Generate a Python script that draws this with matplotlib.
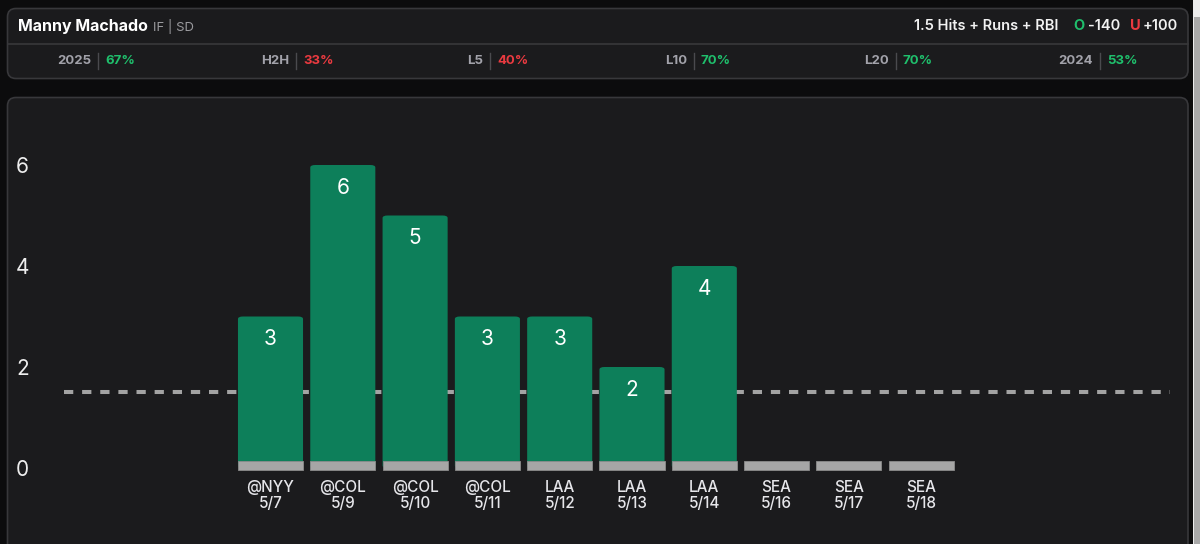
import matplotlib
matplotlib.use("Agg")
import matplotlib.pyplot as plt
from matplotlib.patches import FancyBboxPatch, Rectangle
from matplotlib.lines import Line2D
import numpy as np

# ---- data ----
opponents = ["@NYY", "@COL", "@COL", "@COL", "LAA", "LAA", "LAA", "SEA", "SEA", "SEA"]
dates = ["5/7", "5/9", "5/10", "5/11", "5/12", "5/13", "5/14", "5/16", "5/17", "5/18"]
values = [3, 6, 5, 3, 3, 2, 4, None, None, None]
line_value = 1.5
y_ticks = [0, 2, 4, 6]
stat_labels = ["2025", "H2H", "L5", "L10", "L20", "2024"]
stat_values = ["67%", "33%", "40%", "70%", "70%", "53%"]
stat_good = [True, False, False, True, True, True]
player = "Manny Machado"
player_meta = "IF | SD"
prop_text = "1.5 Hits + Runs + RBI"
over_odds = "-140"
under_odds = "+100"

# ---- style ----
W, H = 1200, 544
DPI = 100
BG = "#0c0c0d"
PANEL = "#1b1b1d"
BORDER = "#38383b"
GREEN_BAR = "#0d7f5a"
GREEN_TXT = "#1fbf6c"
RED_TXT = "#ea3a40"
GRAY_BASE = "#a6a6a6"
TXT = "#f2f2f2"
MUTED = "#a2a2aa"
FONT = ["Inter", "DejaVu Sans"]
plt.rcParams["font.family"] = FONT

fig = plt.figure(figsize=(W / DPI, H / DPI), dpi=DPI, facecolor=BG)


def fx(x):
    return x / W


def fy(y):
    return 1 - y / H


# panels
top_panel = FancyBboxPatch((fx(7.5), fy(78.5)), fx(1180.5), (78.5 - 8.5) / H,
                           boxstyle="round,pad=0,rounding_size=0.007",
                           transform=fig.transFigure, facecolor=PANEL,
                           edgecolor=BORDER, linewidth=1.2, mutation_aspect=W / H,
                           zorder=-5)
fig.patches.append(top_panel)
fig.add_artist(Line2D([fx(8), fx(1188)], [fy(43.5), fy(43.5)], color=BORDER, lw=1.2,
                      transform=fig.transFigure, zorder=-4))
bot_panel = FancyBboxPatch((fx(7.5), fy(560)), fx(1180.5), (560 - 97.5) / H,
                           boxstyle="round,pad=0,rounding_size=0.007",
                           transform=fig.transFigure, facecolor=PANEL,
                           edgecolor=BORDER, linewidth=1.2, mutation_aspect=W / H,
                           zorder=-5)
fig.patches.append(bot_panel)
# scrollbar
fig.patches.append(Rectangle((fx(1193), 0), fx(7), 1, transform=fig.transFigure,
                             facecolor="#ececec", edgecolor="none", zorder=-5))
fig.patches.append(Rectangle((fx(1194), 0), fx(6), fy(17), transform=fig.transFigure,
                             facecolor="#a9a9a9", edgecolor="none", zorder=-4))

# header
name_t = fig.text(fx(18), fy(26), player, color="#ffffff", fontsize=11.5, fontweight="bold",
                  va="center", ha="left")
fig.canvas.draw()
name_end = name_t.get_window_extent().x1
fig.text((name_end + 5) / W, fy(27), player_meta, color="#9a9a9e", fontsize=9.5,
         va="center", ha="left")
fig.text(fx(1058), fy(26), prop_text, color=TXT, fontsize=10.5, fontweight="semibold",
         va="center", ha="right")
fig.text(fx(1073), fy(26), "O", color=GREEN_TXT, fontsize=10.5, fontweight="bold",
         va="center", ha="left")
fig.text(fx(1088), fy(26), over_odds, color=TXT, fontsize=10.5, fontweight="semibold",
         va="center", ha="left")
fig.text(fx(1130), fy(26), "U", color=RED_TXT, fontsize=10.5, fontweight="bold",
         va="center", ha="left")
fig.text(fx(1143), fy(26), under_odds, color=TXT, fontsize=10.5, fontweight="semibold",
         va="center", ha="left")

sep_x = [98, 296, 490, 694, 896, 1100]
for sx, lab, val, good in zip(sep_x, stat_labels, stat_values, stat_good):
    fig.text(fx(sx - 7), fy(61), lab, color=MUTED, fontsize=9.5, fontweight="bold",
             va="center", ha="right")
    fig.add_artist(Line2D([fx(sx), fx(sx)], [fy(53), fy(69)], color="#4a4a4e", lw=1,
                          transform=fig.transFigure))
    fig.text(fx(sx + 7), fy(61), val, color=GREEN_TXT if good else RED_TXT, fontsize=9.5,
             fontweight="bold", va="center", ha="left")

# chart axes
left_px, right_px, top_px, bot_px = 64, 1170, 110, 530
ax = fig.add_axes([fx(left_px), fy(bot_px), fx(right_px - left_px), (bot_px - top_px) / H])
ax.set_facecolor("none")
ax.set_zorder(2)
for s in ax.spines.values():
    s.set_visible(False)

x = np.arange(len(opponents))
px_per_x = 72.3
px_per_y = 50.5
x0 = 270.5
ax.set_xlim((left_px - x0) / px_per_x, (right_px - x0) / px_per_x)
ax.set_ylim((468 - bot_px) / px_per_y, (468 - top_px) / px_per_y)

heights = [v if v is not None else 0 for v in values]
bw = 0.9
bars = ax.bar(x, heights, width=bw, color=GREEN_BAR, zorder=3)
r_x = 5 / px_per_x
asp = px_per_x / px_per_y
for b, v in zip(bars, values):
    b.set_visible(False)
    if v:
        fb = FancyBboxPatch((b.get_x(), b.get_y()), b.get_width(), b.get_height(),
                            boxstyle=f"round,pad=0,rounding_size={r_x}",
                            mutation_aspect=1 / asp, facecolor=GREEN_BAR,
                            edgecolor="none", zorder=3)
        ax.add_patch(fb)
        ax.text(b.get_x() + b.get_width() / 2, v - 0.45, str(v), color="#ffffff",
                fontsize=15, ha="center", va="center", zorder=5)
ax.bar(x, [0.18] * len(x), bottom=-0.04, width=bw, color=GRAY_BASE,
       edgecolor="#8c8c8c", linewidth=0.6, zorder=4)

ax.axhline(line_value, color="#a3a3a3", lw=2.9, linestyle=(0, (2.3, 2.2)),
           dash_capstyle="butt", zorder=2)

for xi, o, d in zip(x, opponents, dates):
    ax.text(xi, (468 - 487.5) / px_per_y, o, color="#e6e6ea", fontsize=11,
            fontweight="medium", ha="center", va="center")
    ax.text(xi, (468 - 503.5) / px_per_y, d, color="#e6e6ea", fontsize=11,
            fontweight="medium", ha="center", va="center")

ax.set_xticks([])
ax.set_yticks(y_ticks)
ax.set_yticklabels([str(t) for t in y_ticks], color="#eeeeee", fontsize=15)
for lab in ax.get_yticklabels():
    lab.set_horizontalalignment("center")
ax.tick_params(axis="y", length=0, pad=30)

fig.savefig("out.png", dpi=DPI, facecolor=BG)
